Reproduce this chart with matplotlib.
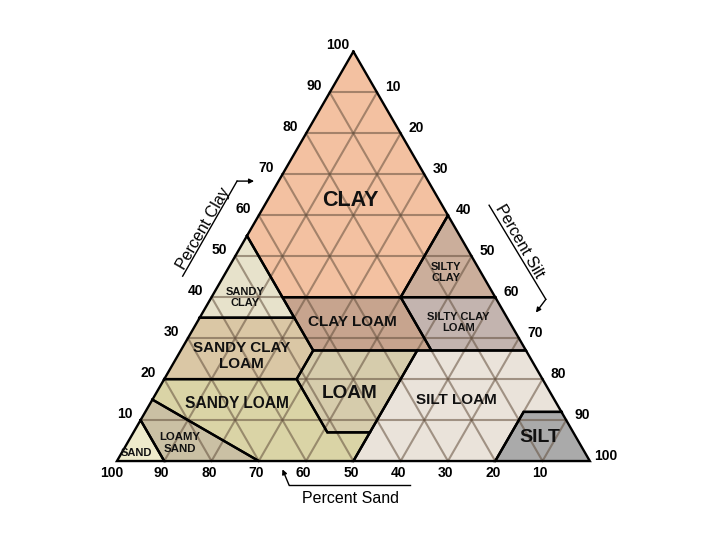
import numpy as np
from matplotlib import pyplot as plt

plt.rcParams['font.family'] = ['Liberation Sans', 'DejaVu Sans']

# texture classes: vertices as (sand, silt, clay) in percent
classes = {
    'CLAY': [(0, 0, 100), (0, 40, 60), (20, 40, 40), (45, 15, 40), (45, 0, 55)],
    'SILTY CLAY': [(0, 40, 60), (0, 60, 40), (20, 40, 40)],
    'SANDY CLAY': [(45, 0, 55), (45, 20, 35), (65, 0, 35)],
    'CLAY LOAM': [(20, 40, 40), (45, 15, 40), (45, 28, 27), (20, 53, 27)],
    'SILTY CLAY LOAM': [(0, 60, 40), (20, 40, 40), (20, 53, 27), (0, 73, 27)],
    'SANDY CLAY LOAM': [(65, 0, 35), (45, 20, 35), (45, 28, 27), (52, 28, 20), (80, 0, 20)],
    'LOAM': [(45, 28, 27), (23, 50, 27), (43, 50, 7), (52, 41, 7), (52, 28, 20)],
    'SILT LOAM': [(23, 50, 27), (0, 73, 27), (0, 88, 12), (8, 80, 12), (20, 80, 0),
                  (50, 50, 0), (43, 50, 7)],
    'SILT': [(0, 88, 12), (0, 100, 0), (20, 80, 0), (8, 80, 12)],
    'SANDY LOAM': [(80, 0, 20), (52, 28, 20), (52, 41, 7), (43, 50, 7), (50, 50, 0),
                   (70, 30, 0), (85, 0, 15)],
    'LOAMY SAND': [(85, 0, 15), (70, 30, 0), (90, 10, 0), (90, 0, 10)],
    'SAND': [(90, 0, 10), (90, 10, 0), (100, 0, 0)],
}

colors = {
    'CLAY': '#F3C1A1',
    'SILTY CLAY': '#CBAE9B',
    'SANDY CLAY': '#E7E2CB',
    'CLAY LOAM': '#C7A48E',
    'SILTY CLAY LOAM': '#C3B4AF',
    'SANDY CLAY LOAM': '#DAC7A5',
    'LOAM': '#D6CCAC',
    'SILT LOAM': '#EAE3DA',
    'SILT': '#AAAAAA',
    'SANDY LOAM': '#DAD4A6',
    'LOAMY SAND': '#CAC0A4',
    'SAND': '#EEEACB',
}

# label text, position (silt, clay) and font size
labels = {
    'CLAY': ('CLAY', 17.7, 63.5, 15.5),
    'SILTY CLAY': ('SILTY\nCLAY', 46.5, 46.1, 8),
    'SANDY CLAY': ('SANDY\nCLAY', 7.1, 40.0, 8),
    'CLAY LOAM': ('CLAY LOAM', 32.9, 33.9, 11),
    'SILTY CLAY LOAM': ('SILTY CLAY\nLOAM', 55.3, 33.9, 8),
    'SANDY CLAY LOAM': ('SANDY CLAY\nLOAM', 13.6, 25.6, 11),
    'LOAM': ('LOAM', 41.0, 16.6, 13.7),
    'SILT LOAM': ('SILT LOAM', 64.4, 14.9, 11),
    'SILT': ('SILT', 86.5, 5.8, 14),
    'SANDY LOAM': ('SANDY LOAM', 18.3, 14.1, 11.2),
    'LOAMY SAND': ('LOAMY\nSAND', 11.1, 4.4, 8.2),
    'SAND': ('SAND', 3.2, 2.0, 8),
}

ticks = np.arange(10, 101, 10)


def tern(sand, silt, clay):
    # bottom-left = sand, bottom-right = silt, top = clay
    x = silt + clay / 2
    y = clay * np.sqrt(3) / 2
    return x, y


fig = plt.figure(figsize=(7.2, 5.4), dpi=100)
ax = fig.add_axes([0, 0, 1, 1])
ax.set_xlim(-24.7, 127.5)
ax.set_ylim(-16.7, 97.5)
ax.set_aspect('equal')
ax.axis('off')

# заливка классов
for name, pts in classes.items():
    xy = [tern(*p) for p in pts]
    ax.fill([p[0] for p in xy], [p[1] for p in xy], color=colors[name], lw=0, zorder=1)

# сетка через 10%
gcol = (0.39, 0.31, 0.24, 0.55)
for k in ticks[:-1]:
    for a, b in [((100 - k, 0, k), (0, 100 - k, k)),
                 ((100 - k, k, 0), (0, k, 100 - k)),
                 ((k, 100 - k, 0), (k, 0, 100 - k))]:
        p1, p2 = tern(*a), tern(*b)
        ax.plot([p1[0], p2[0]], [p1[1], p2[1]], color=gcol, lw=1.5, zorder=2)

# границы классов
for name, pts in classes.items():
    xy = [tern(*p) for p in pts] + [tern(*pts[0])]
    ax.plot([p[0] for p in xy], [p[1] for p in xy], color='black', lw=1.7,
            zorder=3, solid_joinstyle='miter')

for name, (txt, silt, clay, fs) in labels.items():
    x, y = tern(100 - silt - clay, silt, clay)
    ax.text(x, y, txt, ha='center', va='center', fontsize=fs, fontweight='bold',
            color='#111111', zorder=4, linespacing=1.15)

# подписи осей
for k in ticks:
    x, y = tern(100 - k, 0, k)
    ax.annotate(str(k), (x, y), xytext=(-11.5, 4.5), textcoords='offset points',
                ha='center', va='center', fontsize=10, fontweight='bold')
    x, y = tern(0, k, 100 - k)
    ax.annotate(str(k), (x, y), xytext=(11.5, 3.8), textcoords='offset points',
                ha='center', va='center', fontsize=10, fontweight='bold')
    x, y = tern(k, 100 - k, 0)
    dx = -3.5 if k == 100 else -1.8
    ax.annotate(str(k), (x, y), xytext=(dx, -8.4), textcoords='offset points',
                ha='center', va='center', fontsize=10, fontweight='bold')

ax.text(18.3, 49.2, 'Percent Clay', rotation=60, ha='center', va='center', fontsize=11.5)
ax.text(85.2, 46.5, 'Percent Silt', rotation=-60, ha='center', va='center', fontsize=11.5)
ax.text(49.3, -8.0, 'Percent Sand', ha='center', va='center', fontsize=11.5)

arrows = [
    [(13.9, 39.1), (25.4, 59.2), (29.0, 59.2)],
    [(78.7, 54.1), (90.7, 34.2), (88.6, 31.4)],
    [(61.9, -5.1), (36.4, -5.1), (35.0, -1.75)],
]
for path in arrows:
    ax.plot([p[0] for p in path[:2]], [p[1] for p in path[:2]], color='black', lw=1.0)
    ax.annotate('', xy=path[2], xytext=path[1],
                arrowprops=dict(arrowstyle='-|>', color='black', lw=1.0,
                                mutation_scale=7, shrinkA=0, shrinkB=0))

plt.savefig('out.png', dpi=100)
